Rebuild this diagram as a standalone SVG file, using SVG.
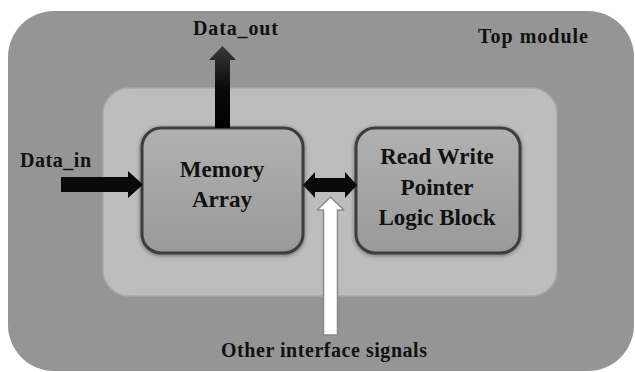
<svg xmlns="http://www.w3.org/2000/svg" width="635" height="372" viewBox="0 0 635 372">
  <style>
    .lbl { font-family: "Liberation Serif", "Times New Roman", serif; font-weight: bold; fill: #111; }
    .side { font-size: 20px; }
    .blk { font-size: 23px; text-anchor: middle; }
    .box { fill: url(#boxFill); stroke: #3c3c3c; stroke-width: 3; filter: url(#shadow); }
    .dark { fill: #0a0a0a; }
  </style>
  <defs>
    <linearGradient id="boxFill" x1="0" y1="0" x2="0" y2="1">
      <stop offset="0" stop-color="#b1b1b1"/>
      <stop offset="1" stop-color="#999"/>
    </linearGradient>
    <linearGradient id="outShaft" x1="0" y1="0" x2="0" y2="1">
      <stop offset="0" stop-color="#3a3a3a"/>
      <stop offset="0.5" stop-color="#0a0a0a"/>
      <stop offset="1" stop-color="#000"/>
    </linearGradient>
    <filter id="shadow" x="-10%" y="-10%" width="120%" height="120%">
      <feGaussianBlur in="SourceAlpha" stdDeviation="2"/>
      <feOffset dx="0" dy="1" result="b"/>
      <feFlood flood-color="#000" flood-opacity="0.45"/>
      <feComposite in2="b" operator="in"/>
      <feMerge><feMergeNode/><feMergeNode in="SourceGraphic"/></feMerge>
    </filter>
  </defs>

  <rect width="635" height="372" fill="#fff"/>

  <!-- outer container -->
  <g id="top-module">
    <rect x="8" y="11" width="626" height="360" rx="46" fill="#959595"/>
    <text class="lbl side" x="478" y="43" textLength="110">Top module</text>
  </g>

  <!-- inner region -->
  <g id="core">
    <rect x="103" y="88" width="454" height="208" rx="26" fill="#bdbdbd" stroke="#a8a8a8" stroke-width="1.5"/>
  </g>

  <g id="memory-array">
    <rect class="box" x="142" y="128" width="161" height="125" rx="19"/>
    <text class="lbl blk" x="222" y="177">Memory</text>
    <text class="lbl blk" x="222" y="207">Array</text>
  </g>

  <g id="rw-pointer">
    <rect class="box" x="356" y="128" width="164" height="125" rx="19"/>
    <text class="lbl blk" x="437" y="164">Read Write</text>
    <text class="lbl blk" x="437" y="195">Pointer</text>
    <text class="lbl blk" x="437" y="225">Logic Block</text>
  </g>

  <!-- connectors -->
  <g id="connectors">
    <!-- Data_out -->
    <path d="M215,128 V60 H209 L222.5,46 L236,60 H230 V128 Z" fill="url(#outShaft)"/>
    <!-- Data_in -->
    <path class="dark" d="M61,177 H128 V171 L143,184.5 L128,198 V192 H61 Z"/>
    <!-- bidirectional link between blocks -->
    <path class="dark" d="M303,185 L315,172 V178 H345 V172 L357,185 L345,198 V192 H315 V198 Z"/>
    <!-- other interface signals -->
    <path d="M323.5,335 V210 H317 L330.5,197 L344,210 H337.5 V335 Z" fill="#fff" stroke="#8a8a8a" stroke-width="1.5" stroke-linejoin="round"/>
  </g>

  <g id="labels">
    <text class="lbl side" x="193" y="35" textLength="85">Data_out</text>
    <text class="lbl side" x="20" y="167" textLength="71">Data_in</text>
    <text class="lbl side" x="221" y="357" textLength="206">Other interface signals</text>
  </g>
</svg>
